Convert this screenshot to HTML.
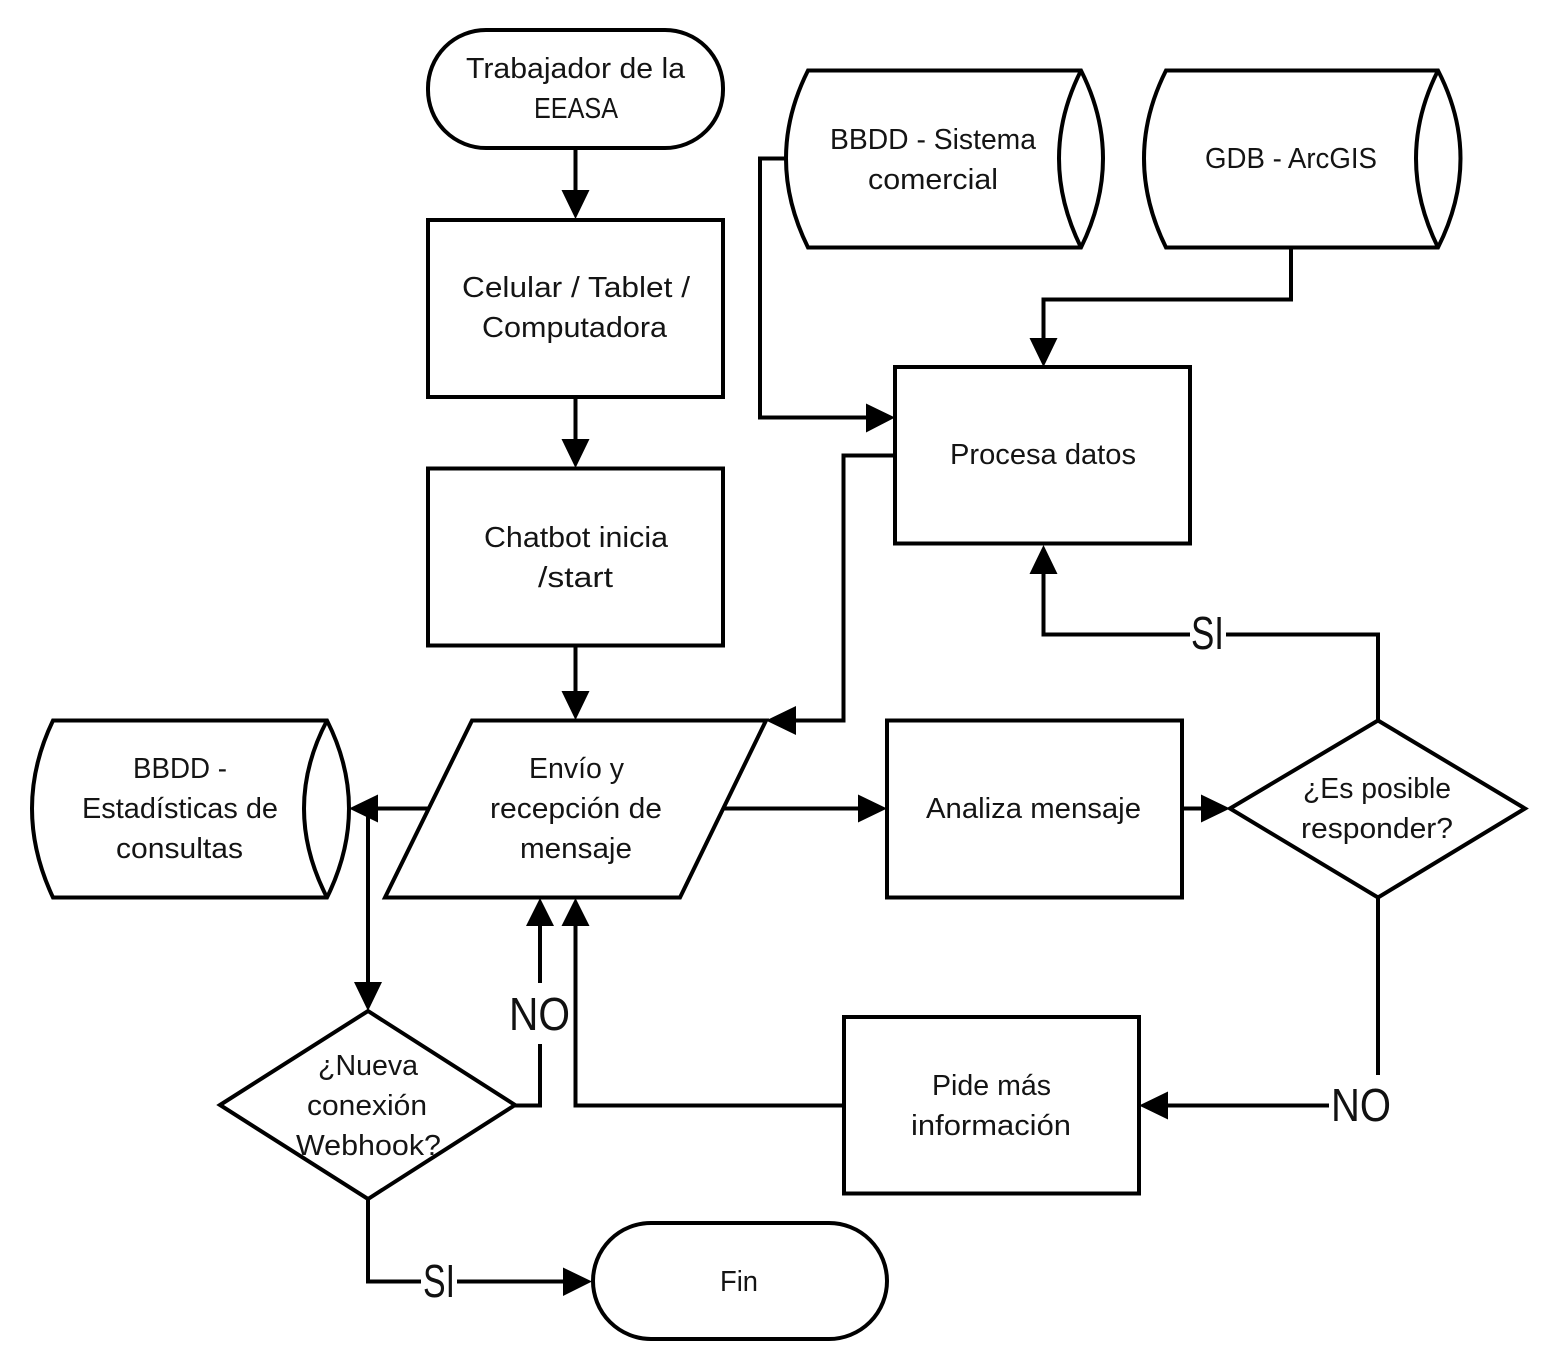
<!DOCTYPE html>
<html lang="es">
<head>
<meta charset="utf-8">
<title>Diagrama de flujo</title>
<style>
html,body{margin:0;padding:0;background:#fff;}
svg{display:block;}
text{font-family:"Liberation Sans",sans-serif;font-size:29px;fill:#141414;}
.big{font-size:46px;fill:#111;}
.s{fill:#fff;stroke:#000;stroke-width:4;stroke-linejoin:miter;}
.l{fill:none;stroke:#000;stroke-width:4;stroke-linejoin:miter;}
.a{fill:#000;stroke:none;}
</style>
</head>
<body>
<svg width="1554" height="1356" viewBox="0 0 1554 1356" xmlns="http://www.w3.org/2000/svg">
<rect width="1554" height="1356" fill="#fff"/>

<!-- Shapes -->
<rect class="s" x="428" y="30" width="295" height="118" rx="58" ry="58"/>
<rect class="s" x="428" y="220" width="295" height="177"/>
<rect class="s" x="428" y="468.5" width="295" height="177"/>
<rect class="s" x="895" y="367" width="295" height="176.5"/>
<rect class="s" x="887" y="720.5" width="295" height="177"/>
<rect class="s" x="844" y="1017" width="295" height="176.5"/>
<rect class="s" x="593" y="1223" width="294" height="116" rx="58" ry="58"/>
<polygon class="s" points="472,720.5 766,720.5 680,897.5 385,897.5"/>
<polygon class="s" points="1230,808.5 1378,720.5 1525,808.5 1378,897.5"/>
<polygon class="s" points="220,1105 368,1011 515,1105 368,1199"/>

<!-- Cylinders -->
<path class="s" d="M53,720.5 L327,720.5 Q371,808 327,897.5 L53,897.5 Q11,808 53,720.5 Z"/>
<path class="l" d="M327,720.5 Q281,808 327,897.5"/>
<path class="s" d="M808,70.5 L1081,70.5 Q1125,158 1081,247.5 L808,247.5 Q764,158 808,70.5 Z"/>
<path class="l" d="M1081,70.5 Q1037,158 1081,247.5"/>
<path class="s" d="M1166,70.5 L1438,70.5 Q1483,158 1438,247.5 L1166,247.5 Q1122,158 1166,70.5 Z"/>
<path class="l" d="M1438,70.5 Q1394,158 1438,247.5"/>

<!-- Connectors -->
<path class="l" d="M575.5,148 V190"/>
<polygon class="a" points="561.5,190 589.5,190 575.5,219"/>
<path class="l" d="M575.5,397 V440"/>
<polygon class="a" points="561.5,439 589.5,439 575.5,468"/>
<path class="l" d="M575.5,645 V692"/>
<polygon class="a" points="561.5,691 589.5,691 575.5,720"/>

<path class="l" d="M430,808.5 H375"/>
<polygon class="a" points="378,794.5 378,822.5 349,808.5"/>
<path class="l" d="M368,808 V985"/>
<polygon class="a" points="354,982 382,982 368,1011"/>

<path class="l" d="M515,1105.5 H540 V1044"/>
<path class="l" d="M540,983 V925"/>
<polygon class="a" points="526,926 554,926 540,898"/>
<path class="l" d="M844,1105.5 H575.5 V925"/>
<polygon class="a" points="561.5,926 589.5,926 575.5,898"/>

<path class="l" d="M895,455.5 H843.5 V720.5 H795"/>
<polygon class="a" points="796,706 796,735 766,720.5"/>

<path class="l" d="M786,158.5 H760 V417.5 H868"/>
<polygon class="a" points="866,403.5 866,432.5 895,417.5"/>

<path class="l" d="M1291,247 V299.5 H1043.5 V340"/>
<polygon class="a" points="1029.5,338 1057.5,338 1043.5,367"/>

<path class="l" d="M723,808.5 H860"/>
<polygon class="a" points="858,794.5 858,822.5 887,808.5"/>
<path class="l" d="M1182,808.5 H1202"/>
<polygon class="a" points="1201,794.5 1201,822.5 1230,808.5"/>

<path class="l" d="M1378,720 V634.5 H1226"/>
<path class="l" d="M1190,634.5 H1043.5 V572"/>
<polygon class="a" points="1029.5,574 1057.5,574 1043.5,545"/>

<path class="l" d="M1378,897 V1075"/>
<path class="l" d="M1329,1105.5 H1166"/>
<polygon class="a" points="1168,1091.5 1168,1119.5 1139,1105.5"/>

<path class="l" d="M368,1199 V1281.5 H421"/>
<path class="l" d="M457,1281.5 H565"/>
<polygon class="a" points="563,1267.5 563,1296 592,1281.5"/>

<!-- Labels -->
<g transform="translate(0,-1)">
<text x="466" y="79" textLength="219" lengthAdjust="spacingAndGlyphs">Trabajador de la</text>
<text x="534" y="119" textLength="84" lengthAdjust="spacingAndGlyphs">EEASA</text>
<text x="462" y="298" textLength="228" lengthAdjust="spacingAndGlyphs">Celular / Tablet /</text>
<text x="482" y="338" textLength="185" lengthAdjust="spacingAndGlyphs">Computadora</text>
<text x="484" y="548" textLength="184" lengthAdjust="spacingAndGlyphs">Chatbot inicia</text>
<text x="538" y="588" textLength="75" lengthAdjust="spacingAndGlyphs">/start</text>
<text x="529" y="779" textLength="95" lengthAdjust="spacingAndGlyphs">Envío y</text>
<text x="490" y="819" textLength="172" lengthAdjust="spacingAndGlyphs">recepción de</text>
<text x="520" y="859" textLength="112" lengthAdjust="spacingAndGlyphs">mensaje</text>
<text x="133" y="779" textLength="94" lengthAdjust="spacingAndGlyphs">BBDD -</text>
<text x="82" y="819" textLength="196" lengthAdjust="spacingAndGlyphs">Estadísticas de</text>
<text x="116" y="859" textLength="127" lengthAdjust="spacingAndGlyphs">consultas</text>
<text x="830" y="150" textLength="206" lengthAdjust="spacingAndGlyphs">BBDD - Sistema</text>
<text x="868" y="190" textLength="130" lengthAdjust="spacingAndGlyphs">comercial</text>
<text x="1205" y="169" textLength="172" lengthAdjust="spacingAndGlyphs">GDB - ArcGIS</text>
<text x="950" y="465" textLength="186" lengthAdjust="spacingAndGlyphs">Procesa datos</text>
<text x="926" y="819" textLength="215" lengthAdjust="spacingAndGlyphs">Analiza mensaje</text>
<text x="1303" y="799" textLength="148" lengthAdjust="spacingAndGlyphs">¿Es posible</text>
<text x="1301" y="839" textLength="152" lengthAdjust="spacingAndGlyphs">responder?</text>
<text x="932" y="1096" textLength="119" lengthAdjust="spacingAndGlyphs">Pide más</text>
<text x="911" y="1136" textLength="160" lengthAdjust="spacingAndGlyphs">información</text>
<text x="318" y="1076" textLength="100" lengthAdjust="spacingAndGlyphs">¿Nueva</text>
<text x="307" y="1116" textLength="120" lengthAdjust="spacingAndGlyphs">conexión</text>
<text x="296" y="1156" textLength="145" lengthAdjust="spacingAndGlyphs">Webhook?</text>
<text x="720" y="1292" textLength="38" lengthAdjust="spacingAndGlyphs">Fin</text>
</g>
<text class="big" x="509" y="1030" textLength="61" lengthAdjust="spacingAndGlyphs">NO</text>
<text class="big" x="1331" y="1121" textLength="60" lengthAdjust="spacingAndGlyphs">NO</text>
<text class="big" x="1191" y="649" textLength="33" lengthAdjust="spacingAndGlyphs">SI</text>
<text class="big" x="423" y="1297" textLength="32" lengthAdjust="spacingAndGlyphs">SI</text>
</svg>
</body>
</html>
